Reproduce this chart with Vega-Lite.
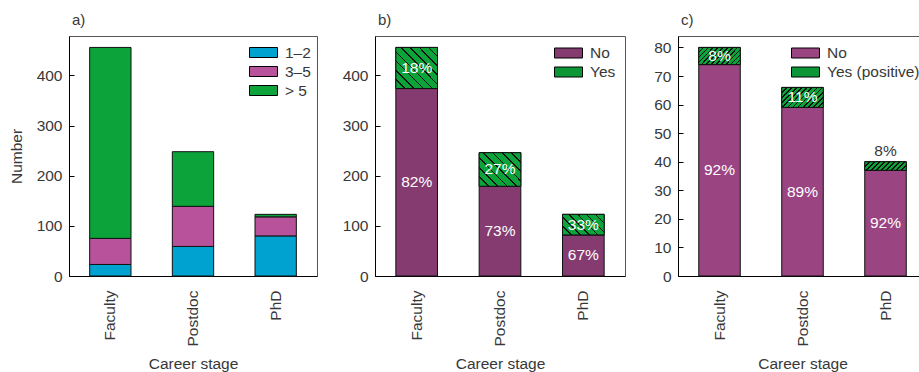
{
  "$schema": "https://vega.github.io/schema/vega-lite/v6.json",
  "padding": {"left": 8, "top": 12, "right": 0, "bottom": 0},
  "spacing": 16,
  "config": {
    "font": "Liberation Sans",
    "view": {"stroke": "#555", "strokeWidth": 1},
    "axis": {
      "labelFontSize": 15.5, "labelColor": "#383838", "labelFont": "Liberation Sans",
      "titleFontSize": 15.5, "titleFontWeight": "normal", "titleColor": "#383838", "titleFont": "Liberation Sans",
      "domainColor": "#000", "tickColor": "#000", "tickSize": -5, "grid": false
    },
    "axisX": {"labelAngle": -90, "labelPadding": 19, "titlePadding": 10},
    "axisY": {"labelPadding": 12, "titlePadding": 12},
    "legend": {
      "padding": 0, "labelFontSize": 15.5, "labelColor": "#383838", "labelFont": "Liberation Sans",
      "symbolType": "M-1.4,-0.5L1.4,-0.5L1.4,0.5L-1.4,0.5Z", "symbolSize": 400,
      "symbolStrokeColor": "#000", "symbolStrokeWidth": 1, "symbolOpacity": 1,
      "labelOffset": 11, "rowPadding": 0, "title": null
    },
    "title": {"anchor": "start", "frame": "group", "fontSize": 15, "fontWeight": "normal", "color": "#383838", "font": "Liberation Sans", "offset": 8, "dx": 3}
  },
  "datasets": {
    "a": [
      {"stage": "Faculty", "years": "1–2", "count": 23},
      {"stage": "Faculty", "years": "3–5", "count": 52},
      {"stage": "Faculty", "years": "> 5", "count": 381},
      {"stage": "Postdoc", "years": "1–2", "count": 59},
      {"stage": "Postdoc", "years": "3–5", "count": 80},
      {"stage": "Postdoc", "years": "> 5", "count": 109},
      {"stage": "PhD", "years": "1–2", "count": 80},
      {"stage": "PhD", "years": "3–5", "count": 38},
      {"stage": "PhD", "years": "> 5", "count": 5}
    ],
    "b": [
      {"stage": "Faculty", "answer": "No", "count": 374, "pct": 0.82},
      {"stage": "Faculty", "answer": "Yes", "count": 82, "pct": 0.18},
      {"stage": "Postdoc", "answer": "No", "count": 179, "pct": 0.73},
      {"stage": "Postdoc", "answer": "Yes", "count": 67, "pct": 0.27},
      {"stage": "PhD", "answer": "No", "count": 82, "pct": 0.67},
      {"stage": "PhD", "answer": "Yes", "count": 41, "pct": 0.33}
    ],
    "c": [
      {"stage": "Faculty", "answer": "No", "count": 74, "pct": 0.92},
      {"stage": "Faculty", "answer": "Yes (positive)", "count": 6, "pct": 0.08},
      {"stage": "Postdoc", "answer": "No", "count": 59, "pct": 0.89},
      {"stage": "Postdoc", "answer": "Yes (positive)", "count": 7, "pct": 0.11},
      {"stage": "PhD", "answer": "No", "count": 37, "pct": 0.92},
      {"stage": "PhD", "answer": "Yes (positive)", "count": 3, "pct": 0.08}
    ]
  },
  "hconcat": [
    {
      "width": 248, "height": 240,
      "title": {"text": "a)"},
      "data": {"name": "a"},
      "mark": {"type": "bar", "stroke": "#111", "strokeWidth": 1},
      "encoding": {
        "x": {"field": "stage", "type": "nominal", "title": "Career stage", "sort": ["Faculty", "Postdoc", "PhD"], "scale": {"paddingInner": 0.5, "paddingOuter": 0.25}},
        "y": {"field": "count", "type": "quantitative", "stack": "zero", "title": "Number", "scale": {"domain": [0, 478.8], "nice": false}, "axis": {"values": [0, 100, 200, 300, 400]}},
        "color": {"field": "years", "type": "nominal", "scale": {"domain": ["1–2", "3–5", "> 5"], "range": ["#00a3cf", "#b8529a", "#0ca33b"]}, "legend": {"orient": "none", "legendX": 184, "legendY": 6}},
        "order": {"field": "years"}
      }
    },
    {
      "width": 250, "height": 240,
      "title": {"text": "b)"},
      "data": {"name": "b"},
      "encoding": {
        "x": {"field": "stage", "type": "nominal", "title": "Career stage", "sort": ["Faculty", "Postdoc", "PhD"], "scale": {"paddingInner": 0.5, "paddingOuter": 0.25}},
        "y": {"field": "count", "type": "quantitative", "stack": "zero", "title": null, "scale": {"domain": [0, 478.8], "nice": false}, "axis": {"values": [0, 100, 200, 300, 400], "minExtent": 40}},
        "order": {"field": "answer"}
      },
      "layer": [
        {
          "mark": {"type": "bar", "stroke": "#111", "strokeWidth": 1},
          "encoding": {
            "color": {"field": "answer", "type": "nominal", "scale": {"domain": ["No", "Yes"], "range": ["#853a70", "#0c9636"]},
              "legend": {"orient": "none", "legendX": 183, "legendY": 6.5}}
          }
        },
        {
          "transform": [
            {"stack": "count", "groupby": ["stage"], "sort": [{"field": "answer"}], "as": ["y0", "y1"]},
            {"filter": "datum.answer === 'Yes'"}
          ],
          "mark": {"type": "bar", "stroke": "#111", "strokeWidth": 1},
          "encoding": {
            "y": {"field": "y1", "type": "quantitative", "stack": null},
            "y2": {"field": "y0"},
            "fill": {
              "condition": [
                {"test": "datum.stage === 'Faculty'", "value": {"gradient": "linear", "x1": 0, "y1": 1, "x2": 1.01, "y2": 0.01, "stops": [
                  {"offset": 0, "color": "#0ca33b"},
                  {"offset": 0.102, "color": "#0ca33b"}, {"offset": 0.102, "color": "#111"}, {"offset": 0.12, "color": "#111"}, {"offset": 0.12, "color": "#0ca33b"},
                  {"offset": 0.213, "color": "#0ca33b"}, {"offset": 0.213, "color": "#111"}, {"offset": 0.231, "color": "#111"}, {"offset": 0.231, "color": "#0ca33b"},
                  {"offset": 0.324, "color": "#0ca33b"}, {"offset": 0.324, "color": "#111"}, {"offset": 0.342, "color": "#111"}, {"offset": 0.342, "color": "#0ca33b"},
                  {"offset": 0.435, "color": "#0ca33b"}, {"offset": 0.435, "color": "#111"}, {"offset": 0.453, "color": "#111"}, {"offset": 0.453, "color": "#0ca33b"},
                  {"offset": 0.547, "color": "#0ca33b"}, {"offset": 0.547, "color": "#111"}, {"offset": 0.565, "color": "#111"}, {"offset": 0.565, "color": "#0ca33b"},
                  {"offset": 0.658, "color": "#0ca33b"}, {"offset": 0.658, "color": "#111"}, {"offset": 0.676, "color": "#111"}, {"offset": 0.676, "color": "#0ca33b"},
                  {"offset": 0.769, "color": "#0ca33b"}, {"offset": 0.769, "color": "#111"}, {"offset": 0.787, "color": "#111"}, {"offset": 0.787, "color": "#0ca33b"},
                  {"offset": 0.88, "color": "#0ca33b"}, {"offset": 0.88, "color": "#111"}, {"offset": 0.898, "color": "#111"}, {"offset": 0.898, "color": "#0ca33b"},
                  {"offset": 1, "color": "#0ca33b"}]}},
                {"test": "datum.stage === 'Postdoc'", "value": {"gradient": "linear", "x1": 0, "y1": 1, "x2": 1.098, "y2": 0.122, "stops": [
                  {"offset": 0, "color": "#0ca33b"},
                  {"offset": 0.114, "color": "#0ca33b"}, {"offset": 0.114, "color": "#111"}, {"offset": 0.136, "color": "#111"}, {"offset": 0.136, "color": "#0ca33b"},
                  {"offset": 0.239, "color": "#0ca33b"}, {"offset": 0.239, "color": "#111"}, {"offset": 0.261, "color": "#111"}, {"offset": 0.261, "color": "#0ca33b"},
                  {"offset": 0.364, "color": "#0ca33b"}, {"offset": 0.364, "color": "#111"}, {"offset": 0.386, "color": "#111"}, {"offset": 0.386, "color": "#0ca33b"},
                  {"offset": 0.489, "color": "#0ca33b"}, {"offset": 0.489, "color": "#111"}, {"offset": 0.511, "color": "#111"}, {"offset": 0.511, "color": "#0ca33b"},
                  {"offset": 0.614, "color": "#0ca33b"}, {"offset": 0.614, "color": "#111"}, {"offset": 0.636, "color": "#111"}, {"offset": 0.636, "color": "#0ca33b"},
                  {"offset": 0.739, "color": "#0ca33b"}, {"offset": 0.739, "color": "#111"}, {"offset": 0.761, "color": "#111"}, {"offset": 0.761, "color": "#0ca33b"},
                  {"offset": 0.864, "color": "#0ca33b"}, {"offset": 0.864, "color": "#111"}, {"offset": 0.886, "color": "#111"}, {"offset": 0.886, "color": "#0ca33b"},
                  {"offset": 1, "color": "#0ca33b"}]}},
                {"test": "datum.stage === 'PhD'", "value": {"gradient": "linear", "x1": 0, "y1": 1, "x2": 1.202, "y2": 0.411, "stops": [
                  {"offset": 0, "color": "#0ca33b"},
                  {"offset": 0.13, "color": "#0ca33b"}, {"offset": 0.13, "color": "#111"}, {"offset": 0.156, "color": "#111"}, {"offset": 0.156, "color": "#0ca33b"},
                  {"offset": 0.273, "color": "#0ca33b"}, {"offset": 0.273, "color": "#111"}, {"offset": 0.299, "color": "#111"}, {"offset": 0.299, "color": "#0ca33b"},
                  {"offset": 0.416, "color": "#0ca33b"}, {"offset": 0.416, "color": "#111"}, {"offset": 0.442, "color": "#111"}, {"offset": 0.442, "color": "#0ca33b"},
                  {"offset": 0.558, "color": "#0ca33b"}, {"offset": 0.558, "color": "#111"}, {"offset": 0.584, "color": "#111"}, {"offset": 0.584, "color": "#0ca33b"},
                  {"offset": 0.701, "color": "#0ca33b"}, {"offset": 0.701, "color": "#111"}, {"offset": 0.727, "color": "#111"}, {"offset": 0.727, "color": "#0ca33b"},
                  {"offset": 0.844, "color": "#0ca33b"}, {"offset": 0.844, "color": "#111"}, {"offset": 0.87, "color": "#111"}, {"offset": 0.87, "color": "#0ca33b"},
                  {"offset": 1, "color": "#0ca33b"}]}}
              ],
              "value": "#0ca33b"
            }
          }
        },
        {
          "mark": {"type": "text", "color": "white", "fontSize": 15.5, "baseline": "middle"},
          "encoding": {
            "y": {"field": "count", "type": "quantitative", "stack": "zero", "bandPosition": 0.5},
            "detail": {"field": "answer"},
            "text": {"field": "pct", "type": "quantitative", "format": ".0%"}
          }
        }
      ]
    },
    {
      "width": 249, "height": 240,
      "title": {"text": "c)"},
      "data": {"name": "c"},
      "encoding": {
        "x": {"field": "stage", "type": "nominal", "title": "Career stage", "sort": ["Faculty", "Postdoc", "PhD"], "scale": {"paddingInner": 0.5, "paddingOuter": 0.25}},
        "y": {"field": "count", "type": "quantitative", "stack": "zero", "title": null, "scale": {"domain": [0, 84], "nice": false}, "axis": {"values": [0, 10, 20, 30, 40, 50, 60, 70, 80], "minExtent": 35}},
        "order": {"field": "answer"}
      },
      "layer": [
        {
          "mark": {"type": "bar", "stroke": "#111", "strokeWidth": 1},
          "encoding": {
            "color": {"field": "answer", "type": "nominal", "scale": {"domain": ["No", "Yes (positive)"], "range": ["#9a4582", "#0c9636"]},
              "legend": {"orient": "none", "legendX": 117, "legendY": 6.5}}
          }
        },
        {
          "transform": [
            {"stack": "count", "groupby": ["stage"], "sort": [{"field": "answer"}], "as": ["y0", "y1"]},
            {"filter": "datum.answer === 'Yes (positive)'"}
          ],
          "mark": {"type": "bar", "stroke": "#111", "strokeWidth": 1},
          "encoding": {
            "y": {"field": "y1", "type": "quantitative", "stack": null},
            "y2": {"field": "y0"},
            "fill": {
              "condition": [
                {"test": "datum.stage === 'Faculty'", "value": {"gradient": "linear", "x1": 0, "y1": 0, "x2": 1.207, "y2": 0.492, "stops": [
                  {"offset": 0, "color": "#0ca33b"},
                  {"offset": 0.069, "color": "#0ca33b"}, {"offset": 0.069, "color": "#111"}, {"offset": 0.097, "color": "#111"}, {"offset": 0.097, "color": "#0ca33b"},
                  {"offset": 0.153, "color": "#0ca33b"}, {"offset": 0.153, "color": "#111"}, {"offset": 0.181, "color": "#111"}, {"offset": 0.181, "color": "#0ca33b"},
                  {"offset": 0.236, "color": "#0ca33b"}, {"offset": 0.236, "color": "#111"}, {"offset": 0.264, "color": "#111"}, {"offset": 0.264, "color": "#0ca33b"},
                  {"offset": 0.319, "color": "#0ca33b"}, {"offset": 0.319, "color": "#111"}, {"offset": 0.347, "color": "#111"}, {"offset": 0.347, "color": "#0ca33b"},
                  {"offset": 0.403, "color": "#0ca33b"}, {"offset": 0.403, "color": "#111"}, {"offset": 0.431, "color": "#111"}, {"offset": 0.431, "color": "#0ca33b"},
                  {"offset": 0.486, "color": "#0ca33b"}, {"offset": 0.486, "color": "#111"}, {"offset": 0.514, "color": "#111"}, {"offset": 0.514, "color": "#0ca33b"},
                  {"offset": 0.569, "color": "#0ca33b"}, {"offset": 0.569, "color": "#111"}, {"offset": 0.597, "color": "#111"}, {"offset": 0.597, "color": "#0ca33b"},
                  {"offset": 0.653, "color": "#0ca33b"}, {"offset": 0.653, "color": "#111"}, {"offset": 0.681, "color": "#111"}, {"offset": 0.681, "color": "#0ca33b"},
                  {"offset": 0.736, "color": "#0ca33b"}, {"offset": 0.736, "color": "#111"}, {"offset": 0.764, "color": "#111"}, {"offset": 0.764, "color": "#0ca33b"},
                  {"offset": 0.819, "color": "#0ca33b"}, {"offset": 0.819, "color": "#111"}, {"offset": 0.847, "color": "#111"}, {"offset": 0.847, "color": "#0ca33b"},
                  {"offset": 0.903, "color": "#0ca33b"}, {"offset": 0.903, "color": "#111"}, {"offset": 0.931, "color": "#111"}, {"offset": 0.931, "color": "#0ca33b"},
                  {"offset": 1, "color": "#0ca33b"}]}},
                {"test": "datum.stage === 'Postdoc'", "value": {"gradient": "linear", "x1": 0, "y1": 0, "x2": 1.203, "y2": 0.573, "stops": [
                  {"offset": 0, "color": "#0ca33b"},
                  {"offset": 0.069, "color": "#0ca33b"}, {"offset": 0.069, "color": "#111"}, {"offset": 0.097, "color": "#111"}, {"offset": 0.097, "color": "#0ca33b"},
                  {"offset": 0.153, "color": "#0ca33b"}, {"offset": 0.153, "color": "#111"}, {"offset": 0.181, "color": "#111"}, {"offset": 0.181, "color": "#0ca33b"},
                  {"offset": 0.236, "color": "#0ca33b"}, {"offset": 0.236, "color": "#111"}, {"offset": 0.264, "color": "#111"}, {"offset": 0.264, "color": "#0ca33b"},
                  {"offset": 0.319, "color": "#0ca33b"}, {"offset": 0.319, "color": "#111"}, {"offset": 0.347, "color": "#111"}, {"offset": 0.347, "color": "#0ca33b"},
                  {"offset": 0.403, "color": "#0ca33b"}, {"offset": 0.403, "color": "#111"}, {"offset": 0.431, "color": "#111"}, {"offset": 0.431, "color": "#0ca33b"},
                  {"offset": 0.486, "color": "#0ca33b"}, {"offset": 0.486, "color": "#111"}, {"offset": 0.514, "color": "#111"}, {"offset": 0.514, "color": "#0ca33b"},
                  {"offset": 0.569, "color": "#0ca33b"}, {"offset": 0.569, "color": "#111"}, {"offset": 0.597, "color": "#111"}, {"offset": 0.597, "color": "#0ca33b"},
                  {"offset": 0.653, "color": "#0ca33b"}, {"offset": 0.653, "color": "#111"}, {"offset": 0.681, "color": "#111"}, {"offset": 0.681, "color": "#0ca33b"},
                  {"offset": 0.736, "color": "#0ca33b"}, {"offset": 0.736, "color": "#111"}, {"offset": 0.764, "color": "#111"}, {"offset": 0.764, "color": "#0ca33b"},
                  {"offset": 0.819, "color": "#0ca33b"}, {"offset": 0.819, "color": "#111"}, {"offset": 0.847, "color": "#111"}, {"offset": 0.847, "color": "#0ca33b"},
                  {"offset": 0.903, "color": "#0ca33b"}, {"offset": 0.903, "color": "#111"}, {"offset": 0.931, "color": "#111"}, {"offset": 0.931, "color": "#0ca33b"},
                  {"offset": 1, "color": "#0ca33b"}]}},
                {"test": "datum.stage === 'PhD'", "value": {"gradient": "linear", "x1": 0, "y1": 0, "x2": 1.156, "y2": 0.236, "stops": [
                  {"offset": 0, "color": "#0ca33b"},
                  {"offset": 0.083, "color": "#0ca33b"}, {"offset": 0.083, "color": "#111"}, {"offset": 0.117, "color": "#111"}, {"offset": 0.117, "color": "#0ca33b"},
                  {"offset": 0.183, "color": "#0ca33b"}, {"offset": 0.183, "color": "#111"}, {"offset": 0.217, "color": "#111"}, {"offset": 0.217, "color": "#0ca33b"},
                  {"offset": 0.283, "color": "#0ca33b"}, {"offset": 0.283, "color": "#111"}, {"offset": 0.317, "color": "#111"}, {"offset": 0.317, "color": "#0ca33b"},
                  {"offset": 0.383, "color": "#0ca33b"}, {"offset": 0.383, "color": "#111"}, {"offset": 0.417, "color": "#111"}, {"offset": 0.417, "color": "#0ca33b"},
                  {"offset": 0.483, "color": "#0ca33b"}, {"offset": 0.483, "color": "#111"}, {"offset": 0.517, "color": "#111"}, {"offset": 0.517, "color": "#0ca33b"},
                  {"offset": 0.583, "color": "#0ca33b"}, {"offset": 0.583, "color": "#111"}, {"offset": 0.617, "color": "#111"}, {"offset": 0.617, "color": "#0ca33b"},
                  {"offset": 0.683, "color": "#0ca33b"}, {"offset": 0.683, "color": "#111"}, {"offset": 0.717, "color": "#111"}, {"offset": 0.717, "color": "#0ca33b"},
                  {"offset": 0.783, "color": "#0ca33b"}, {"offset": 0.783, "color": "#111"}, {"offset": 0.817, "color": "#111"}, {"offset": 0.817, "color": "#0ca33b"},
                  {"offset": 0.883, "color": "#0ca33b"}, {"offset": 0.883, "color": "#111"}, {"offset": 0.917, "color": "#111"}, {"offset": 0.917, "color": "#0ca33b"},
                  {"offset": 1, "color": "#0ca33b"}]}}
              ],
              "value": "#0ca33b"
            }
          }
        },
        {
          "transform": [{"filter": "!(datum.stage === 'PhD' && datum.answer === 'Yes (positive)')"}],
          "mark": {"type": "text", "color": "white", "fontSize": 15.5, "baseline": "middle"},
          "encoding": {
            "y": {"field": "count", "type": "quantitative", "stack": "zero", "bandPosition": 0.5},
            "detail": {"field": "answer"},
            "text": {"field": "pct", "type": "quantitative", "format": ".0%"}
          }
        },
        {
          "transform": [
            {"stack": "count", "groupby": ["stage"], "sort": [{"field": "answer"}], "as": ["y0", "y1"]},
            {"filter": "datum.stage === 'PhD' && datum.answer === 'Yes (positive)'"}
          ],
          "mark": {"type": "text", "color": "#383838", "fontSize": 15.5, "baseline": "bottom", "dy": -3},
          "encoding": {
            "y": {"field": "y1", "type": "quantitative"},
            "text": {"field": "pct", "type": "quantitative", "format": ".0%"}
          }
        }
      ]
    }
  ],
  "resolve": {"scale": {"color": "independent", "y": "independent"}, "legend": {"color": "independent"}}
}
